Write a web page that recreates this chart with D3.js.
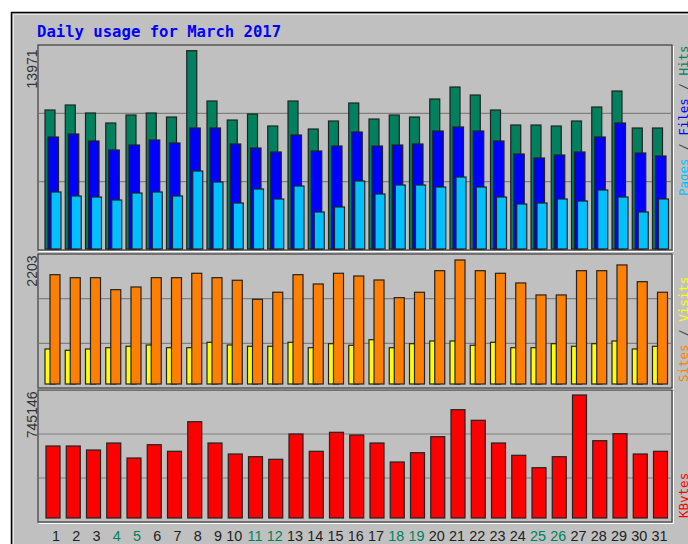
<!DOCTYPE html>
<html lang="en">
<head>
    <script src="https://d3js.org/d3.v7.min.js"></script>
    <style>
        body { margin: 0; background: #fff; }
    </style>
</head>
<body>
    <svg width="688" height="544"></svg>
    <script>
        const days = d3.range(1, 32);
        const weekends = [4, 5, 11, 12, 18, 19, 25, 26];

        const hits = [9793, 10145, 9581, 8877, 9440, 9581, 9299, 13971, 10427, 9088,
            9511, 8665, 10427, 8454, 9018, 10286, 9158, 9440, 9299, 10568,
            11413, 10849, 9793, 8736, 8736, 8665, 9018, 10004, 11131, 8524, 8524];
        const files = [7890, 8102, 7609, 6975, 7327, 7679, 7468, 8524, 8524, 7397,
            7115, 6834, 8031, 6904, 7256, 8243, 7256, 7327, 7397, 8313,
            8595, 8313, 7609, 6693, 6411, 6622, 6834, 7890, 8877, 6763, 6552];
        const pages = [4016, 3734, 3663, 3452, 3945, 4016, 3734, 5495, 4720, 3241,
            4227, 3523, 4438, 2607, 2959, 4791, 3875, 4509, 4509, 4368,
            5072, 4368, 3663, 3170, 3241, 3523, 3382, 4157, 3663, 2607, 3523];
        const visits = [622, 599, 622, 645, 670, 693, 645, 645, 741, 693,
            670, 670, 741, 645, 716, 688, 787, 645, 716, 764,
            764, 688, 741, 645, 645, 716, 670, 716, 764, 622, 670];
        const sites = [1942, 1889, 1889, 1676, 1724, 1889, 1889, 1967, 1889, 1843,
            1505, 1630, 1942, 1777, 1967, 1919, 1848, 1534, 1630, 2013,
            2203, 2013, 1967, 1795, 1582, 1582, 2013, 2013, 2115, 1818, 1630];
        const kbytes = [436176, 436176, 411944, 454350, 363480, 444051, 404069, 583385, 454350, 387712,
            371355, 355605, 508872, 404069, 519171, 502814, 454350, 339248, 395587, 492515,
            656081, 591867, 454350, 379837, 304717, 371355, 745146, 468283, 510689, 387712, 404069];

        const svg = d3.select("svg");

        // outer frame
        svg.append("rect").attr("x", 11.5).attr("y", 12.5).attr("width", 700).attr("height", 560)
            .attr("fill", "#c0c0c0").attr("stroke", "#000").attr("stroke-width", 1.5);
        svg.append("path").attr("d", "M13.5,560V14.5H700")
            .attr("fill", "none").attr("stroke", "#e4e4e4");

        svg.append("text").attr("x", 37).attr("y", 37)
            .attr("font-family", "DejaVu Sans Mono").attr("font-weight", "bold")
            .attr("font-size", 15.6).attr("fill", "#0000ff")
            .text("Daily usage for March 2017");

        const x = d3.scaleBand().domain(days).range([38.5, 38.5 + 31 * 20.25]);

        const panels = [
            {top: 45, bottom: 250, base: 249, peak: 50.7, max: 13971, labelEnd: 49.5},
            {top: 254, bottom: 388, base: 384, peak: 260, max: 2203, labelEnd: 255.5},
            {top: 390, bottom: 522, base: 518, peak: 395, max: 745146, labelEnd: 391.5}
        ];

        panels.forEach(p => {
            p.y = d3.scaleLinear().domain([0, p.max]).range([p.base, p.peak]);
            const g = svg.append("g");
            g.append("rect").attr("x", 38).attr("y", p.top).attr("width", 634).attr("height", p.bottom - p.top)
                .attr("fill", "#c0c0c0").attr("stroke", "#3c3c3c").attr("stroke-width", 1.2);
            g.append("path").attr("d", `M39,${p.bottom + 1.5}H673.5V${p.top + 1}`)
                .attr("fill", "none").attr("stroke", "#fff");
            [1, 2].forEach(i => {
                const gy = p.top + (p.bottom - p.top) * i / 3;
                g.append("line").attr("x1", 38.6).attr("x2", 671.4).attr("y1", gy).attr("y2", gy)
                    .attr("stroke", "#808080").attr("stroke-width", 1.2);
            });
            g.append("text")
                .attr("transform", `translate(36.5,${p.labelEnd}) rotate(-90)`)
                .attr("text-anchor", "end")
                .attr("font-family", "Liberation Sans").attr("font-size", 14).attr("fill", "#333")
                .text(p.max);
        });

        function bars(series, panel, offset, width, color) {
            svg.append("g").selectAll("rect")
                .data(series)
                .join("rect")
                .attr("x", (d, i) => x(days[i]) + offset)
                .attr("y", d => panel.y(d))
                .attr("width", width)
                .attr("height", d => panel.base - panel.y(d))
                .attr("fill", color)
                .attr("stroke", "#222")
                .attr("stroke-width", 1.2);
        }

        bars(hits, panels[0], 6.5, 10, "#00805c");
        bars(files, panels[0], 9.5, 10.5, "#0000ff");
        bars(pages, panels[0], 12.5, 10, "#00c0ff");
        bars(visits, panels[1], 6.5, 10, "#ffff00");
        bars(sites, panels[1], 11.5, 10, "#ff8000");
        bars(kbytes, panels[2], 7.5, 14, "#ff0000");

        // day labels
        svg.append("g").selectAll("text")
            .data(days)
            .join("text")
            .attr("x", d => x(d) + 21.5)
            .attr("y", 541)
            .attr("text-anchor", "end")
            .attr("font-family", "Liberation Sans").attr("font-size", 14.4)
            .attr("fill", d => weekends.includes(d) ? "#00805c" : "#222")
            .text(d => d);

        // side legends
        const legends = [
            {y: 196, parts: [["Pages", "#00c0ff"], [" / ", "#444"], ["Files", "#0000ff"], [" / ", "#444"], ["Hits", "#00805c"]]},
            {y: 382, parts: [["Sites", "#ff8000"], [" / ", "#444"], ["Visits", "#ffff00"]]},
            {y: 518, parts: [["KBytes", "#ff0000"]]}
        ];
        legends.forEach(l => {
            const t = svg.append("text")
                .attr("transform", `translate(688,${l.y}) rotate(-90)`)
                .attr("font-family", "DejaVu Sans Mono").attr("font-size", 12.5)
                .attr("xml:space", "preserve");
            l.parts.forEach(([s, c]) => t.append("tspan").attr("fill", c).text(s));
        });
    </script>
</body>
</html>
